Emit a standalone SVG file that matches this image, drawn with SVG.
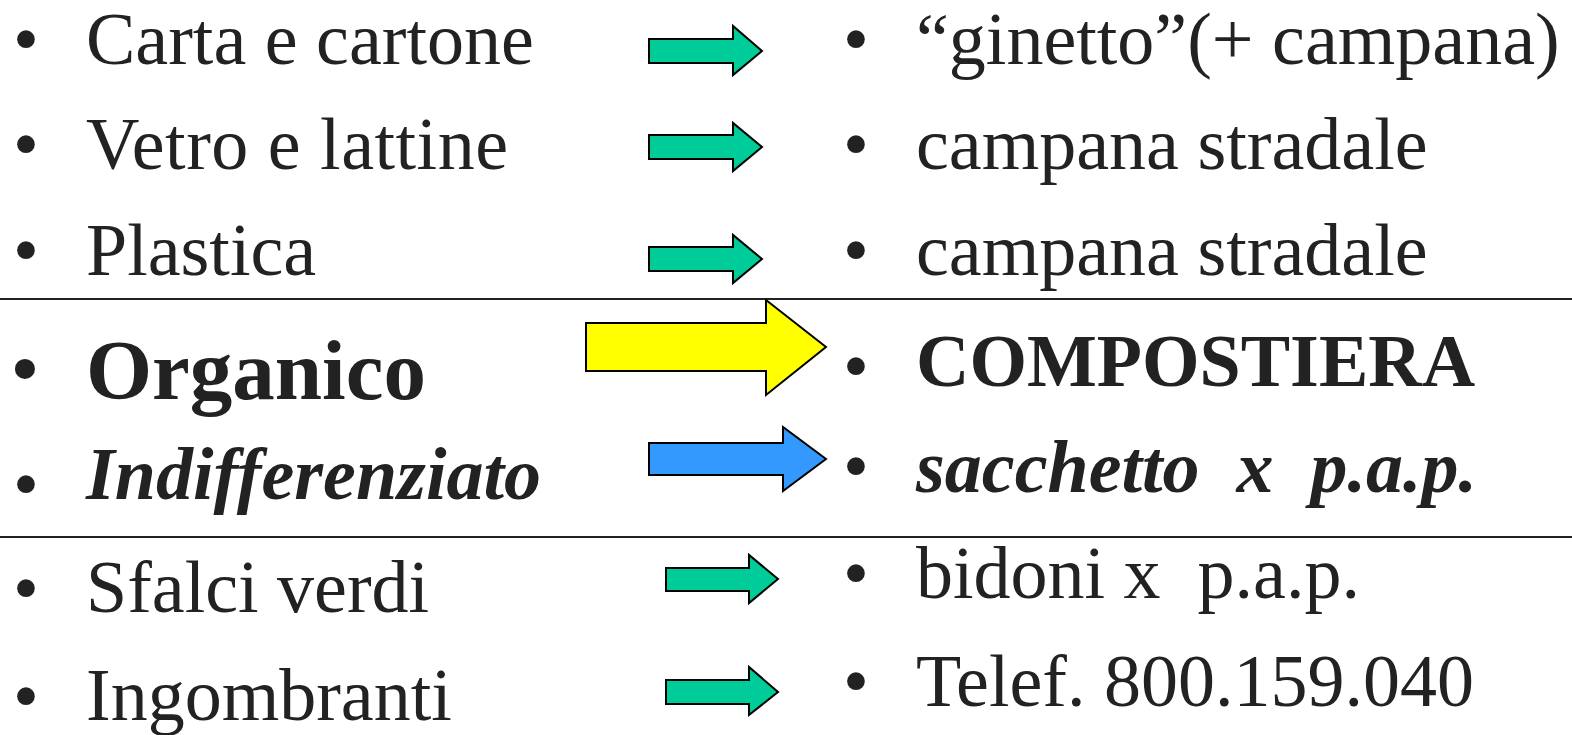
<svg xmlns="http://www.w3.org/2000/svg" width="1572" height="735" viewBox="0 0 1572 735">
<style>
text{font-family:"Liberation Serif","Times New Roman",serif;font-size:74px;fill:#222;white-space:pre}
.b{font-weight:bold}
.bi{font-weight:bold;font-style:italic}
.arr{stroke:#000;stroke-width:2;stroke-linejoin:miter}
.g{fill:#00cc99}
.y{fill:#ffff00}
.bl{fill:#3399ff}
.sep{stroke:#222;stroke-width:2}
</style>
<rect width="1572" height="735" fill="#fff"/>
<g id="separators">
<line class="sep" x1="0" y1="299" x2="1572" y2="299"/>
<line class="sep" x1="0" y1="537" x2="1572" y2="537"/>
</g>
<g id="left-carta"><text x="13" y="64">•</text><text x="86" y="64">Carta e cartone</text></g>
<g id="left-vetro"><text x="13" y="169">•</text><text x="86" y="169" textLength="422">Vetro e lattine</text></g>
<g id="left-plastica"><text x="13" y="275">•</text><text x="86" y="275">Plastica</text></g>
<g id="left-organico"><text x="12" y="394" class="b">•</text><text x="86" y="399" class="b" style="font-size:85px">Organico</text></g>
<g id="left-indiff"><text x="13" y="509">•</text><text x="86" y="499" class="bi">Indifferenziato</text></g>
<g id="left-sfalci"><text x="13" y="613">•</text><text x="86" y="612">Sfalci verdi</text></g>
<g id="left-ingombranti"><text x="13" y="721">•</text><text x="86" y="720">Ingombranti</text></g>
<g id="right-ginetto"><text x="843" y="64">•</text><text x="916" y="64">“ginetto”(+ campana)</text></g>
<g id="right-campana1"><text x="843" y="169">•</text><text x="916" y="169">campana stradale</text></g>
<g id="right-campana2"><text x="843" y="275">•</text><text x="916" y="275">campana stradale</text></g>
<g id="right-compostiera"><text x="843" y="391">•</text><text x="916" y="386" class="b">COMPOSTIERA</text></g>
<g id="right-sacchetto"><text x="843" y="491">•</text><text x="916" y="492" class="bi">sacchetto  x  p.a.p.</text></g>
<g id="right-bidoni"><text x="843" y="598">•</text><text x="916" y="598">bidoni x  p.a.p.</text></g>
<g id="right-telef"><text x="843" y="706">•</text><text x="916" y="706">Telef. 800.159.040</text></g>
<g id="connectors">
<polygon class="arr g" points="649,39 733,39 733,26 762,51 733,75 733,63 649,63"/>
<polygon class="arr g" points="649,135 733,135 733,123 762,147 733,171 733,159 649,159"/>
<polygon class="arr g" points="649,247 733,247 733,235 762,259 733,283 733,271 649,271"/>
<polygon class="arr y" points="586,323 766,323 766,300 826,347 766,395 766,371 586,371"/>
<polygon class="arr bl" points="649,443 783,443 783,427 826,459 783,491 783,475 649,475"/>
<polygon class="arr g" points="666,568 749,568 749,555 778,579 749,603 749,591 666,591"/>
<polygon class="arr g" points="666,680 749,680 749,667 778,692 749,715 749,704 666,704"/>
</g>
</svg>
